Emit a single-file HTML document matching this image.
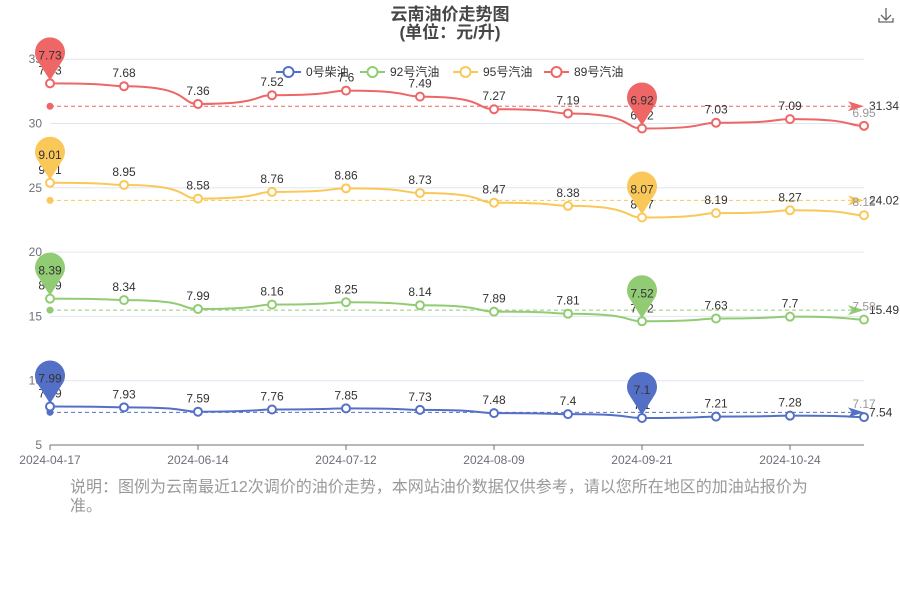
<!DOCTYPE html>
<html><head><meta charset="utf-8"><style>
body{margin:0;background:#fff;font-family:"Liberation Sans","Noto Sans CJK SC",sans-serif}
#wrap{position:relative;width:900px;height:600px;overflow:hidden}
#note{position:absolute;left:70px;top:478px;width:750px;font-size:16px;line-height:19px;color:#999}
</style></head><body>
<div id="wrap">
<svg id="chart" width="900" height="600"></svg>
<div id="note">说明：图例为云南最近12次调价的油价走势，本网站油价数据仅供参考，请以您所在地区的加油站报价为准。</div>
</div>
<script>
const categories=["2024-04-17","2024-05-16","2024-06-14","2024-06-28","2024-07-12","2024-07-26","2024-08-09","2024-08-23","2024-09-21","2024-10-10","2024-10-24","2024-11-07"];
const diesel0=[7.99,7.93,7.59,7.76,7.85,7.73,7.48,7.4,7.1,7.21,7.28,7.17];
const gas92=[8.39,8.34,7.99,8.16,8.25,8.14,7.89,7.81,7.52,7.63,7.7,7.58];
const gas95=[9.01,8.95,8.58,8.76,8.86,8.73,8.47,8.38,8.07,8.19,8.27,8.12];
const gas89=[7.73,7.68,7.36,7.52,7.60,7.49,7.27,7.19,6.92,7.03,7.09,6.95];
const seriesNames=["0号柴油","92号汽油","95号汽油","89号汽油"];
const yTicks=[5,10,15,20,25,30,35];
const xLabelIdx=[0,2,4,6,8,10];

const NS="http://www.w3.org/2000/svg";
const svg=document.getElementById('chart');
const colors=["#5470c6","#91cc75","#fac858","#ee6666"];
const X0=50,X1=864,Y0=445,Ymin=5,pxPer=12.86;
const xs=i=>X0+i*(X1-X0)/(categories.length-1);
const ys=v=>Y0-(v-Ymin)*pxPer;
function mk(tag,attrs,parent){const e=document.createElementNS(NS,tag);for(const k in attrs)e.setAttribute(k,attrs[k]);(parent||svg).appendChild(e);return e;}
function txt(x,y,s,attrs){const t=mk('text',Object.assign({x:x,y:y,'font-size':12,fill:'#333','text-anchor':'middle'},attrs||{}));t.textContent=s;return t;}

// title
let t=txt(450,20,"云南油价走势图",{'font-size':17,'font-weight':'bold',fill:'#464646'});

t=txt(450,38,"(单位：元/升)",{'font-size':17,'font-weight':'bold',fill:'#464646'});

// download icon
const dl=mk('path',{d:'M886 8v12M881 15l5 5 5-5M879 18v4h14v-4',stroke:'#666',fill:'none','stroke-width':1.3});


// grid & y ticks
yTicks.forEach(v=>{
  const l=mk('line',{x1:X0,x2:X1,y1:ys(v),y2:ys(v),stroke:v===5?'#6e7079':'#e0e6f1'});
  
  const tt=txt(42,ys(v)+4,String(v),{'text-anchor':'end',fill:'#6e7079'});
  
});
xLabelIdx.forEach(i=>{
  const l=mk('line',{x1:xs(i),x2:xs(i),y1:Y0,y2:Y0+5,stroke:'#6e7079'});
  
  const tt=txt(xs(i),Y0+19,categories[i],{fill:'#6e7079'});
  
});

// legend
const legX=[276,360,453,544];
seriesNames.forEach((n,k)=>{
  const g=mk('g',{});
  
  mk('line',{x1:legX[k],x2:legX[k]+25,y1:72,y2:72,stroke:colors[k],'stroke-width':2},g);
  mk('circle',{cx:legX[k]+12.5,cy:72,r:5,fill:'#fff',stroke:colors[k],'stroke-width':2},g);
  const tt=mk('text',{x:legX[k]+30,y:76,'font-size':12,fill:'#333'},g);tt.textContent=n;
});

const raw=[diesel0,gas92,gas95,gas89];
const stacked=[];
raw.forEach((arr,k)=>{stacked.push(arr.map((v,i)=>v+(k?stacked[k-1][i]:0)));});

const layer=[];
raw.forEach((arr,k)=>{
  const st=stacked[k],c=colors[k];
  const g=mk('g',{});
  
  let d='M'+xs(0)+' '+ys(st[0]);
  for(let i=1;i<st.length;i++){
    const xa=xs(i-1),xb=xs(i),dx=xb-xa;
    d+=' C'+(xa+dx*0.9)+' '+ys(st[i-1])+' '+(xa+dx*0.75)+' '+ys(st[i])+' '+xb+' '+ys(st[i]);
  }
  const p=mk('path',{d:d,fill:'none',stroke:c,'stroke-width':2},g);
  
  // average markline
  const avg=st.reduce((a,b)=>a+b,0)/st.length;
  const avgRaw=arr.reduce((a,b)=>a+b,0)/arr.length;
  const ml=mk('line',{x1:X0,x2:X1-8,y1:ys(avg),y2:ys(avg),stroke:c,'stroke-dasharray':'4,3'},g);
  
  mk('circle',{cx:X0,cy:ys(avg),r:3.5,fill:c},g);
  const ay=ys(avg);
  mk('path',{d:`M${X1-16} ${ay-5} L${X1} ${ay} L${X1-16} ${ay+5} L${X1-12} ${ay} Z`,fill:c},g);
  const at=txt(X1+5,ay+4,(k===0?avgRaw:avg).toFixed(2),{'text-anchor':'start'});
  
  st.forEach((v,i)=>{
    const pt=mk('circle',{cx:xs(i),cy:ys(v),r:4,fill:'#fff',stroke:c,'stroke-width':2},g);
    
    const lt=txt(xs(i),ys(v)-9,String(arr[i]),{fill:i===arr.length-1?'#999':'#333'});
    
  });
  // max/min pins
  const mx=arr.indexOf(Math.max(...arr)),mn=arr.indexOf(Math.min(...arr));
  [mx,mn].forEach(i=>layer.push([xs(i),ys(st[i]),c,String(arr[i])]));
});
layer.forEach(([x,y,c,s])=>{
  const g=mk('g',{});
  
  mk('path',{d:`M${x} ${y-3} L${x-12} ${y-22} A15 15 0 1 1 ${x+12} ${y-22} Z`,fill:c},g);
  const tt=mk('text',{x:x,y:y-24,'font-size':12,fill:'#333','text-anchor':'middle'},g);tt.textContent=s;
});
</script>
</body></html>
